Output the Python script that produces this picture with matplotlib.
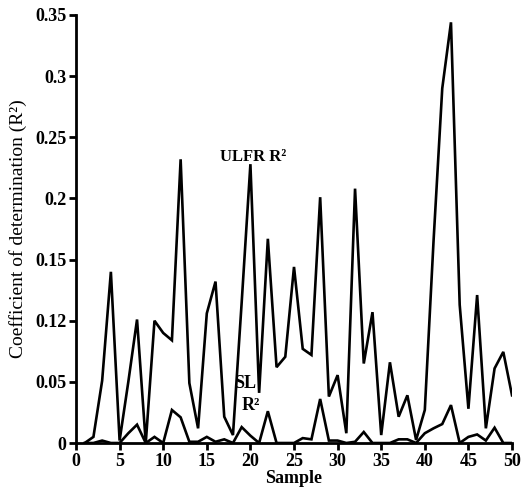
import numpy as np
import matplotlib
matplotlib.use('Agg')
import matplotlib.pyplot as plt

plt.rcParams['font.family'] = ['Liberation Serif', 'DejaVu Serif']

# sample numbers 1..50
sample = np.arange(1, 51)

# ULFR R^2 per sample
ulfr = [0.0, 0.005, 0.051, 0.140, 0.002, 0.050, 0.101, 0.0, 0.100, 0.090,
        0.084, 0.232, 0.049, 0.012, 0.106, 0.132, 0.0215, 0.0065, 0.115, 0.228,
        0.041, 0.167, 0.062, 0.0705, 0.144, 0.077, 0.072, 0.201, 0.038, 0.0555,
        0.008, 0.208, 0.065, 0.107, 0.0065, 0.066, 0.0215, 0.039, 0.0025, 0.027,
        0.165, 0.290, 0.344, 0.113, 0.028, 0.121, 0.012, 0.061, 0.0745, 0.039]

# SL R^2 per sample
sl = [0.0, 0.0, 0.002, 0.0, 0.0, 0.008, 0.015, 0.0, 0.005, 0.0,
      0.027, 0.021, 0.001, 0.001, 0.005, 0.001, 0.003, 0.0, 0.013, 0.006,
      0.0, 0.026, 0.0, 0.0, 0.0, 0.004, 0.003, 0.036, 0.002, 0.002,
      0.0, 0.001, 0.009, 0.0, 0.0, 0.0, 0.003, 0.003, 0.0, 0.008,
      0.012, 0.0155, 0.031, 0.0, 0.005, 0.007, 0.002, 0.0125, 0.0, 0.0]

yticks = [0, 0.05, 0.1, 0.15, 0.2, 0.25, 0.3, 0.35]
ytick_labels = ['0', '0.05', '0.12', '0.15', '0.2', '0.25', '0.3', '0.35']
xticks = [0, 5, 10, 15, 20, 25, 30, 35, 40, 45, 50]

fig = plt.figure(figsize=(5.23, 4.93), dpi=100)
ax = fig.add_axes([0.1453, 0.1014, 0.8337, 0.8682])

ax.plot(sample, ulfr, color='black', lw=1.9, solid_joinstyle='miter')
ax.plot(sample, sl, color='black', lw=1.9, solid_joinstyle='miter')

ax.set_xlim(0, 50)
ax.set_ylim(0, 0.35)
ax.set_xticks(xticks)
ax.set_yticks(yticks)
ax.set_yticklabels(ytick_labels)

for s in ['top', 'right']:
    ax.spines[s].set_visible(False)
for s in ['left', 'bottom']:
    ax.spines[s].set_linewidth(2)
ax.tick_params(direction='out', length=5, width=2, labelsize=13, pad=2)
for lab in ax.get_xticklabels() + ax.get_yticklabels():
    lab.set_fontweight('bold')

ax.set_xlabel('Sample', fontsize=13, fontweight='bold', labelpad=0)
ax.set_ylabel('Coefficient of determination (R²)', fontsize=14, labelpad=6)

ax.text(20.3, 0.234, 'ULFR R²', fontsize=12, fontweight='bold', ha='center', va='center')
ax.text(19.4, 0.049, 'SL', fontsize=13, fontweight='bold', ha='center', va='center')
ax.text(20.0, 0.031, 'R²', fontsize=13, fontweight='bold', ha='center', va='center')

fig.savefig('out.png', dpi=100)
